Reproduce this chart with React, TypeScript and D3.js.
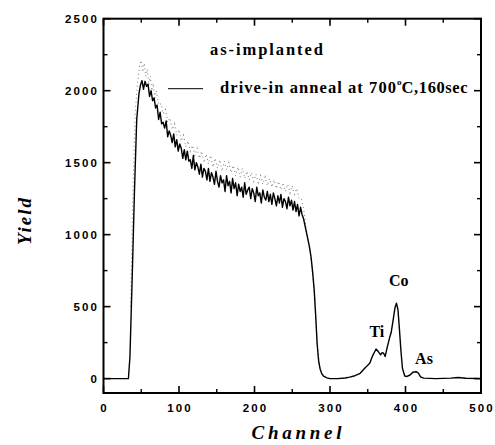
import React from 'react';
import * as d3 from 'd3';

const annealChannel = [0,10,20,30,33,35,38,41,44,47,49,51,53,55,57,59,61,63,65,67,69,71,73,75,77,79,81,83,85,87,89,91,93,95,97,99,101,103,105,107,109,111,113,115,117,119,121,123,125,127,129,131,133,135,137,139,141,143,145,147,149,151,153,155,157,159,161,163,165,167,169,171,173,175,177,179,181,183,185,187,189,191,193,195,197,199,201,203,205,207,209,211,213,215,217,219,221,223,225,227,229,231,233,235,237,239,241,243,245,247,249,251,253,255,257,259,261,263,265,267,269,271,273,275,277,279,281,283,285,287,289,292,296,300,310,320,326,333,340,346,350,353,355,357,359,361,364,367,369,371,373,376,379,381,383,386,388,390,392,394,396,399,402,406,410,414,417,420,424,440,460,470,480,500];
const annealYield = [0,0,0,0,0,150,700,1300,1800,1980,2040,2070,2010,2065,2030,2045,1960,2000,1930,1950,1880,1900,1800,1850,1770,1780,1740,1790,1680,1720,1690,1640,1700,1610,1660,1580,1630,1600,1530,1590,1520,1580,1510,1520,1460,1550,1450,1500,1470,1420,1490,1400,1460,1440,1380,1460,1370,1430,1400,1350,1440,1370,1330,1410,1360,1380,1300,1410,1340,1370,1290,1390,1320,1360,1270,1350,1300,1330,1260,1360,1280,1310,1330,1250,1320,1290,1230,1330,1270,1290,1220,1310,1260,1240,1300,1230,1280,1210,1290,1250,1200,1270,1220,1280,1190,1250,1230,1180,1260,1200,1240,1170,1230,1160,1210,1130,1190,1140,1110,1060,1010,960,910,840,740,620,440,240,120,65,35,15,5,0,0,4,10,20,37,72,92,110,140,165,185,205,188,165,180,176,153,222,285,320,385,490,524,480,340,190,70,18,15,25,45,48,38,12,3,0,3,8,2,0];

const implantChannel = [36,39,42,45,48,50,52,54,56,58,60,62,64,66,68,70,73,76,79,82,85,88,91,94,97,100,103,106,109,112,115,118,121,124,127,130,133,136,139,142,145,148,151,154,157,160,163,166,169,172,175,178,181,184,187,190,193,196,199,202,205,208,211,214,217,220,223,226,229,232,235,238,241,244,247,250,253,256,259,262,265,268,271,274,277,280,283,286,289,292];
const implantYield = [500,1300,1850,2050,2180,2210,2130,2190,2100,2150,2040,2100,2000,2050,1950,2000,1900,1910,1840,1870,1780,1810,1730,1770,1690,1730,1650,1690,1610,1650,1580,1620,1550,1600,1530,1580,1500,1560,1490,1550,1470,1530,1460,1520,1440,1510,1450,1500,1430,1480,1410,1470,1400,1460,1390,1440,1380,1430,1370,1420,1360,1410,1350,1400,1340,1390,1330,1380,1320,1370,1310,1360,1300,1350,1290,1340,1280,1320,1250,1250,1180,1060,960,870,730,560,250,90,35,15];

const xMajor = [0, 100, 200, 300, 400, 500];
const xMinor = [50, 150, 250, 350, 450];
const yMajor = [0, 500, 1000, 1500, 2000, 2500];
const yMinor = [250, 750, 1250, 1750, 2250];

const peakLabels = [
  { text: 'Ti', ch: 362, val: 290 },
  { text: 'Co', ch: 391, val: 644 },
  { text: 'As', ch: 424.5, val: 102 },
];

const legendTexts = ['as-implanted', 'drive-in anneal at 700', 'C,160sec'];

export default function App() {
  const x = d3.scaleLinear().domain([0, 500]).range([103.5, 481]);
  const y = d3.scaleLinear().domain([-100, 2500]).range([393, 18.7]);
  const mk = (cs: number[], vs: number[]) =>
    d3.line<number>().x((d) => x(d)).y((_, i) => y(vs[i]))(cs) || '';

  const annealPath = mk(annealChannel, annealYield);
  const implantPath = mk(implantChannel, implantYield);

  const L = x(0), R = x(500), T = y(2500), B = y(-100);
  const labelLen = (s: string) => (s.length > 1 ? s.length * 6.4 + (s.length - 1) * 2.1 : undefined);
  const sans = '"Liberation Sans", Arial, sans-serif';
  const serif = '"Liberation Serif", "Times New Roman", serif';

  return (
    <svg width={495} height={445} style={{ position: 'absolute', left: 0, top: 0, background: '#fff' }}>
      <rect x={0} y={0} width={495} height={445} fill="#fff" />
      {/* data */}
      <path d={implantPath} fill="none" stroke="#8a8a8a" strokeWidth={1.1} strokeDasharray="1 3" />
      <path d={annealPath} fill="none" stroke="#000" strokeWidth={1.4} strokeLinejoin="round" />

      {/* frame */}
      <rect x={L} y={T} width={R - L} height={B - T} fill="none" stroke="#000" strokeWidth={2} />

      {/* x ticks bottom & top */}
      {xMajor.map((v) => (
        <g key={'xm' + v}>
          <line x1={x(v)} x2={x(v)} y1={B} y2={B - 7} stroke="#000" strokeWidth={1.6} />
          <line x1={x(v)} x2={x(v)} y1={T} y2={T + 7} stroke="#000" strokeWidth={1.6} />
          <text x={x(v)} y={412} textAnchor="middle" fontFamily={sans} fontWeight="bold" fontSize={11.5}
            textLength={labelLen(String(v))} lengthAdjust="spacing">{v}</text>
        </g>
      ))}
      {xMinor.map((v) => (
        <g key={'xn' + v}>
          <line x1={x(v)} x2={x(v)} y1={B} y2={B - 4} stroke="#000" strokeWidth={1.4} />
          <line x1={x(v)} x2={x(v)} y1={T} y2={T + 4} stroke="#000" strokeWidth={1.4} />
        </g>
      ))}
      {/* y ticks left & right */}
      {yMajor.map((v) => (
        <g key={'ym' + v}>
          <line x1={L} x2={L + 7} y1={y(v)} y2={y(v)} stroke="#000" strokeWidth={1.6} />
          <line x1={R} x2={R - 7} y1={y(v)} y2={y(v)} stroke="#000" strokeWidth={1.6} />
          <text x={97} y={y(v)} dy="0.36em" textAnchor="end" fontFamily={sans} fontWeight="bold" fontSize={11.5}
            textLength={labelLen(String(v))} lengthAdjust="spacing">{v}</text>
        </g>
      ))}
      {yMinor.map((v) => (
        <g key={'yn' + v}>
          <line x1={L} x2={L + 4} y1={y(v)} y2={y(v)} stroke="#000" strokeWidth={1.4} />
          <line x1={R} x2={R - 4} y1={y(v)} y2={y(v)} stroke="#000" strokeWidth={1.4} />
        </g>
      ))}

      {/* axis titles */}
      <text x={296.5} y={439} textAnchor="middle" fontFamily={serif} fontWeight="bold" fontStyle="italic"
        fontSize={19} textLength={90} lengthAdjust="spacing">Channel</text>
      <text transform="translate(31,221.5) rotate(-90)" textAnchor="middle" fontFamily={serif} fontWeight="bold"
        fontStyle="italic" fontSize={19} textLength={47} lengthAdjust="spacing">Yield</text>

      {/* legend */}
      <text x={210} y={54.5} fontFamily={serif} fontWeight="bold" fontSize={16.5} textLength={113}
        lengthAdjust="spacing">{legendTexts[0]}</text>
      <line x1={168} x2={203} y1={88.7} y2={88.7} stroke="#000" strokeWidth={1} />
      <text x={220} y={93} fontFamily={serif} fontWeight="bold" fontSize={16.5}>
        <tspan textLength={176} lengthAdjust="spacing">{legendTexts[1]}</tspan>
        <tspan fontSize={9} dy={-8}>o</tspan>
        <tspan dy={8} textLength={66} lengthAdjust="spacing">{legendTexts[2]}</tspan>
      </text>

      {/* peak labels */}
      {peakLabels.map((p) => (
        <text key={p.text} x={x(p.ch)} y={y(p.val)} textAnchor="middle" fontFamily={serif} fontWeight="bold"
          fontSize={16}>{p.text}</text>
      ))}
    </svg>
  );
}
